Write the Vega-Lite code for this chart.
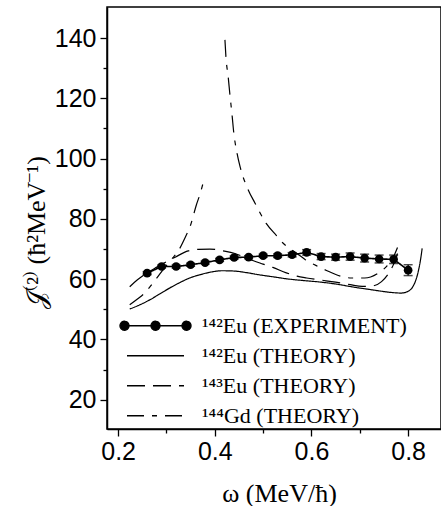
{
  "$schema": "https://vega.github.io/schema/vega-lite/v6.json",
  "width": 334,
  "height": 422,
  "autosize": {"type": "none"},
  "padding": {"left": 107, "top": 7, "right": 0, "bottom": 77},
  "background": "white",
  "config": {
    "view": {"stroke": "black", "strokeWidth": 1.5},
    "axis": {
      "grid": false,
      "domainColor": "black",
      "domainWidth": 1.5,
      "tickColor": "black",
      "tickWidth": 1.3,
      "labelColor": "black",
      "labelFont": "Liberation Sans",
      "labelFontSize": 25,
      "titleFont": "Liberation Serif",
      "titleFontSize": 26,
      "titleFontWeight": "normal",
      "titleColor": "black"
    },
    "legend": {"labelFont": "Liberation Serif", "labelFontSize": 22}
  },
  "datasets": {
    "exp": [
      {"series": "¹⁴²Eu (EXPERIMENT)", "branch": "e", "w": 0.26, "J": 62.0, "lo": 61.5, "hi": 62.5},
      {"series": "¹⁴²Eu (EXPERIMENT)", "branch": "e", "w": 0.29, "J": 64.2, "lo": 63.7, "hi": 64.7},
      {"series": "¹⁴²Eu (EXPERIMENT)", "branch": "e", "w": 0.32, "J": 64.2, "lo": 63.7, "hi": 64.7},
      {"series": "¹⁴²Eu (EXPERIMENT)", "branch": "e", "w": 0.35, "J": 64.8, "lo": 64.3, "hi": 65.3},
      {"series": "¹⁴²Eu (EXPERIMENT)", "branch": "e", "w": 0.38, "J": 65.5, "lo": 65.0, "hi": 66.0},
      {"series": "¹⁴²Eu (EXPERIMENT)", "branch": "e", "w": 0.41, "J": 66.4, "lo": 65.9, "hi": 66.9},
      {"series": "¹⁴²Eu (EXPERIMENT)", "branch": "e", "w": 0.44, "J": 67.2, "lo": 66.7, "hi": 67.7},
      {"series": "¹⁴²Eu (EXPERIMENT)", "branch": "e", "w": 0.47, "J": 67.3, "lo": 66.8, "hi": 67.8},
      {"series": "¹⁴²Eu (EXPERIMENT)", "branch": "e", "w": 0.50, "J": 67.8, "lo": 67.3, "hi": 68.3},
      {"series": "¹⁴²Eu (EXPERIMENT)", "branch": "e", "w": 0.53, "J": 67.8, "lo": 67.2, "hi": 68.4},
      {"series": "¹⁴²Eu (EXPERIMENT)", "branch": "e", "w": 0.56, "J": 68.1, "lo": 67.4, "hi": 68.8},
      {"series": "¹⁴²Eu (EXPERIMENT)", "branch": "e", "w": 0.59, "J": 68.9, "lo": 68.0, "hi": 69.8},
      {"series": "¹⁴²Eu (EXPERIMENT)", "branch": "e", "w": 0.62, "J": 67.5, "lo": 66.5, "hi": 68.5},
      {"series": "¹⁴²Eu (EXPERIMENT)", "branch": "e", "w": 0.65, "J": 67.3, "lo": 66.3, "hi": 68.3},
      {"series": "¹⁴²Eu (EXPERIMENT)", "branch": "e", "w": 0.68, "J": 67.5, "lo": 66.3, "hi": 68.7},
      {"series": "¹⁴²Eu (EXPERIMENT)", "branch": "e", "w": 0.71, "J": 67.0, "lo": 65.7, "hi": 68.3},
      {"series": "¹⁴²Eu (EXPERIMENT)", "branch": "e", "w": 0.74, "J": 66.7, "lo": 65.4, "hi": 68.0},
      {"series": "¹⁴²Eu (EXPERIMENT)", "branch": "e", "w": 0.77, "J": 66.6, "lo": 65.2, "hi": 68.0},
      {"series": "¹⁴²Eu (EXPERIMENT)", "branch": "e", "w": 0.80, "J": 63.0, "lo": 61.2, "hi": 64.8}
    ],
    "theory": [
      {"series": "¹⁴²Eu (THEORY)", "branch": "a", "w": 0.224, "J": 50.1},
      {"series": "¹⁴²Eu (THEORY)", "branch": "a", "w": 0.245, "J": 51.5},
      {"series": "¹⁴²Eu (THEORY)", "branch": "a", "w": 0.266, "J": 53.2},
      {"series": "¹⁴²Eu (THEORY)", "branch": "a", "w": 0.287, "J": 55.2},
      {"series": "¹⁴²Eu (THEORY)", "branch": "a", "w": 0.307, "J": 57.1},
      {"series": "¹⁴²Eu (THEORY)", "branch": "a", "w": 0.328, "J": 58.9},
      {"series": "¹⁴²Eu (THEORY)", "branch": "a", "w": 0.348, "J": 60.4},
      {"series": "¹⁴²Eu (THEORY)", "branch": "a", "w": 0.370, "J": 61.5},
      {"series": "¹⁴²Eu (THEORY)", "branch": "a", "w": 0.390, "J": 62.3},
      {"series": "¹⁴²Eu (THEORY)", "branch": "a", "w": 0.415, "J": 62.8},
      {"series": "¹⁴²Eu (THEORY)", "branch": "a", "w": 0.440, "J": 62.7},
      {"series": "¹⁴²Eu (THEORY)", "branch": "a", "w": 0.465, "J": 62.2},
      {"series": "¹⁴²Eu (THEORY)", "branch": "a", "w": 0.490, "J": 61.5},
      {"series": "¹⁴²Eu (THEORY)", "branch": "a", "w": 0.520, "J": 60.8},
      {"series": "¹⁴²Eu (THEORY)", "branch": "a", "w": 0.550, "J": 60.1},
      {"series": "¹⁴²Eu (THEORY)", "branch": "a", "w": 0.580, "J": 59.6},
      {"series": "¹⁴²Eu (THEORY)", "branch": "a", "w": 0.615, "J": 59.1},
      {"series": "¹⁴²Eu (THEORY)", "branch": "a", "w": 0.650, "J": 58.4},
      {"series": "¹⁴²Eu (THEORY)", "branch": "a", "w": 0.690, "J": 57.3},
      {"series": "¹⁴²Eu (THEORY)", "branch": "a", "w": 0.720, "J": 56.6},
      {"series": "¹⁴²Eu (THEORY)", "branch": "a", "w": 0.745, "J": 56.0},
      {"series": "¹⁴²Eu (THEORY)", "branch": "a", "w": 0.765, "J": 55.6},
      {"series": "¹⁴²Eu (THEORY)", "branch": "a", "w": 0.785, "J": 55.4},
      {"series": "¹⁴²Eu (THEORY)", "branch": "a", "w": 0.800, "J": 56.0},
      {"series": "¹⁴²Eu (THEORY)", "branch": "a", "w": 0.810, "J": 57.6},
      {"series": "¹⁴²Eu (THEORY)", "branch": "a", "w": 0.817, "J": 60.2},
      {"series": "¹⁴²Eu (THEORY)", "branch": "a", "w": 0.822, "J": 63.3},
      {"series": "¹⁴²Eu (THEORY)", "branch": "a", "w": 0.826, "J": 66.8},
      {"series": "¹⁴²Eu (THEORY)", "branch": "a", "w": 0.829, "J": 70.2},
      {"series": "¹⁴³Eu (THEORY)", "branch": "b", "w": 0.224, "J": 57.5},
      {"series": "¹⁴³Eu (THEORY)", "branch": "b", "w": 0.240, "J": 59.8},
      {"series": "¹⁴³Eu (THEORY)", "branch": "b", "w": 0.259, "J": 62.0},
      {"series": "¹⁴³Eu (THEORY)", "branch": "b", "w": 0.280, "J": 64.0},
      {"series": "¹⁴³Eu (THEORY)", "branch": "b", "w": 0.300, "J": 65.8},
      {"series": "¹⁴³Eu (THEORY)", "branch": "b", "w": 0.318, "J": 67.3},
      {"series": "¹⁴³Eu (THEORY)", "branch": "b", "w": 0.345, "J": 69.4},
      {"series": "¹⁴³Eu (THEORY)", "branch": "b", "w": 0.366, "J": 69.9},
      {"series": "¹⁴³Eu (THEORY)", "branch": "b", "w": 0.390, "J": 70.0},
      {"series": "¹⁴³Eu (THEORY)", "branch": "b", "w": 0.420, "J": 69.3},
      {"series": "¹⁴³Eu (THEORY)", "branch": "b", "w": 0.440, "J": 68.6},
      {"series": "¹⁴³Eu (THEORY)", "branch": "b", "w": 0.460, "J": 67.4},
      {"series": "¹⁴³Eu (THEORY)", "branch": "b", "w": 0.480, "J": 66.1},
      {"series": "¹⁴³Eu (THEORY)", "branch": "b", "w": 0.500, "J": 65.0},
      {"series": "¹⁴³Eu (THEORY)", "branch": "b", "w": 0.520, "J": 63.9},
      {"series": "¹⁴³Eu (THEORY)", "branch": "b", "w": 0.548, "J": 62.1},
      {"series": "¹⁴³Eu (THEORY)", "branch": "b", "w": 0.570, "J": 61.0},
      {"series": "¹⁴³Eu (THEORY)", "branch": "b", "w": 0.590, "J": 60.4},
      {"series": "¹⁴³Eu (THEORY)", "branch": "b", "w": 0.620, "J": 59.7},
      {"series": "¹⁴³Eu (THEORY)", "branch": "b", "w": 0.650, "J": 59.0},
      {"series": "¹⁴³Eu (THEORY)", "branch": "b", "w": 0.680, "J": 58.2},
      {"series": "¹⁴³Eu (THEORY)", "branch": "b", "w": 0.705, "J": 57.6},
      {"series": "¹⁴³Eu (THEORY)", "branch": "b", "w": 0.728, "J": 57.8},
      {"series": "¹⁴³Eu (THEORY)", "branch": "b", "w": 0.745, "J": 59.2},
      {"series": "¹⁴³Eu (THEORY)", "branch": "b", "w": 0.760, "J": 62.0},
      {"series": "¹⁴³Eu (THEORY)", "branch": "b", "w": 0.770, "J": 65.0},
      {"series": "¹⁴³Eu (THEORY)", "branch": "b", "w": 0.778, "J": 68.5},
      {"series": "¹⁴⁴Gd (THEORY)", "branch": "c1", "w": 0.224, "J": 51.5},
      {"series": "¹⁴⁴Gd (THEORY)", "branch": "c1", "w": 0.240, "J": 53.4},
      {"series": "¹⁴⁴Gd (THEORY)", "branch": "c1", "w": 0.255, "J": 55.4},
      {"series": "¹⁴⁴Gd (THEORY)", "branch": "c1", "w": 0.270, "J": 58.3},
      {"series": "¹⁴⁴Gd (THEORY)", "branch": "c1", "w": 0.290, "J": 62.5},
      {"series": "¹⁴⁴Gd (THEORY)", "branch": "c1", "w": 0.310, "J": 66.5},
      {"series": "¹⁴⁴Gd (THEORY)", "branch": "c1", "w": 0.325, "J": 69.5},
      {"series": "¹⁴⁴Gd (THEORY)", "branch": "c1", "w": 0.338, "J": 73.6},
      {"series": "¹⁴⁴Gd (THEORY)", "branch": "c1", "w": 0.350, "J": 78.0},
      {"series": "¹⁴⁴Gd (THEORY)", "branch": "c1", "w": 0.362, "J": 84.7},
      {"series": "¹⁴⁴Gd (THEORY)", "branch": "c1", "w": 0.370, "J": 88.5},
      {"series": "¹⁴⁴Gd (THEORY)", "branch": "c1", "w": 0.376, "J": 92.0},
      {"series": "¹⁴⁴Gd (THEORY)", "branch": "c2", "w": 0.421, "J": 139.4},
      {"series": "¹⁴⁴Gd (THEORY)", "branch": "c2", "w": 0.423, "J": 133.9},
      {"series": "¹⁴⁴Gd (THEORY)", "branch": "c2", "w": 0.428, "J": 126.7},
      {"series": "¹⁴⁴Gd (THEORY)", "branch": "c2", "w": 0.431, "J": 121.7},
      {"series": "¹⁴⁴Gd (THEORY)", "branch": "c2", "w": 0.436, "J": 114.0},
      {"series": "¹⁴⁴Gd (THEORY)", "branch": "c2", "w": 0.439, "J": 109.0},
      {"series": "¹⁴⁴Gd (THEORY)", "branch": "c2", "w": 0.446, "J": 101.8},
      {"series": "¹⁴⁴Gd (THEORY)", "branch": "c2", "w": 0.453, "J": 96.9},
      {"series": "¹⁴⁴Gd (THEORY)", "branch": "c2", "w": 0.469, "J": 89.7},
      {"series": "¹⁴⁴Gd (THEORY)", "branch": "c2", "w": 0.483, "J": 85.3},
      {"series": "¹⁴⁴Gd (THEORY)", "branch": "c2", "w": 0.506, "J": 78.6},
      {"series": "¹⁴⁴Gd (THEORY)", "branch": "c2", "w": 0.528, "J": 74.4},
      {"series": "¹⁴⁴Gd (THEORY)", "branch": "c2", "w": 0.541, "J": 72.0},
      {"series": "¹⁴⁴Gd (THEORY)", "branch": "c2", "w": 0.572, "J": 68.3},
      {"series": "¹⁴⁴Gd (THEORY)", "branch": "c2", "w": 0.588, "J": 66.4},
      {"series": "¹⁴⁴Gd (THEORY)", "branch": "c2", "w": 0.610, "J": 64.5},
      {"series": "¹⁴⁴Gd (THEORY)", "branch": "c2", "w": 0.631, "J": 62.9},
      {"series": "¹⁴⁴Gd (THEORY)", "branch": "c2", "w": 0.662, "J": 60.9},
      {"series": "¹⁴⁴Gd (THEORY)", "branch": "c2", "w": 0.683, "J": 60.4},
      {"series": "¹⁴⁴Gd (THEORY)", "branch": "c2", "w": 0.710, "J": 60.4},
      {"series": "¹⁴⁴Gd (THEORY)", "branch": "c2", "w": 0.738, "J": 62.0},
      {"series": "¹⁴⁴Gd (THEORY)", "branch": "c2", "w": 0.755, "J": 64.2},
      {"series": "¹⁴⁴Gd (THEORY)", "branch": "c2", "w": 0.770, "J": 67.5},
      {"series": "¹⁴⁴Gd (THEORY)", "branch": "c2", "w": 0.778, "J": 70.5}
    ]
  },
  "encoding": {
    "x": {
      "field": "w", "type": "quantitative",
      "scale": {"domain": [0.177, 0.868], "nice": false, "zero": false},
      "axis": {
        "values": [0.2, 0.3, 0.4, 0.5, 0.6, 0.7, 0.8],
        "labelExpr": "round(datum.value*10) % 2 == 0 ? format(datum.value, '.1f') : ''",
        "tickSize": {"condition": {"test": "round(datum.value*10) % 2 == 0", "value": 7}, "value": 4},
        "labelPadding": 3,
        "labelFlush": false,
        "title": "ω (MeV/ħ)",
        "titleFont": "Liberation Serif",
        "titleFontSize": 26,
        "titleX": 172,
        "titleY": 64,
        "titleBaseline": "middle"
      }
    },
    "y": {
      "field": "J", "type": "quantitative",
      "scale": {"domain": [10.3, 150.3], "nice": false, "zero": false},
      "axis": {
        "values": [20, 30, 40, 50, 60, 70, 80, 90, 100, 110, 120, 130, 140],
        "labelExpr": "datum.value % 20 == 0 ? datum.label : ''",
        "tickSize": {"condition": {"test": "datum.value % 20 == 0", "value": 7}, "value": 4},
        "labelPadding": 4,
        "title": "𝒥⁽²⁾  (ħ²MeV⁻¹)",
        "titleFont": "Liberation Serif",
        "titleFontSize": 26,
        "titleX": -71,
        "titleY": 225,
        "titleAlign": "center",
        "titleBaseline": "middle",
        "titleAngle": -90
      }
    }
  },
  "layer": [
    {
      "data": {"name": "theory"},
      "mark": {"type": "line", "interpolate": "monotone", "strokeWidth": 1.2, "color": "black"},
      "encoding": {
        "detail": {"field": "branch"},
        "strokeDash": {
          "field": "series", "type": "nominal",
          "scale": {
            "domain": ["¹⁴²Eu (EXPERIMENT)", "¹⁴²Eu (THEORY)", "¹⁴³Eu (THEORY)", "¹⁴⁴Gd (THEORY)"],
            "range": [[1, 0], [1, 0], [18, 8], [17, 8, 5, 8]]
          },
          "legend": {
            "title": null,
            "orient": "none",
            "legendX": 11,
            "legendY": 304,
            "padding": 0,
            "symbolType": "stroke",
            "symbolSize": 3249,
            "symbolOffset": 8,
            "symbolStrokeColor": "black",
            "symbolStrokeWidth": 1.3,
            "labelFont": "Liberation Serif",
            "labelFontSize": 22,
            "labelColor": "black",
            "labelOffset": 17,
            "labelLimit": 320,
            "clipHeight": 29.5,
            "rowPadding": 0,
            "encode": {
              "symbols": {
                "update": {
                  "shape": {"signal": "indexof(datum.value, 'EXPERIMENT') >= 0 ? 'M-1.088,0L1.088,0M-1.246,0a0.158,0.158 0 1,0 0.316,0a0.158,0.158 0 1,0 -0.316,0M-0.158,0a0.158,0.158 0 1,0 0.316,0a0.158,0.158 0 1,0 -0.316,0M0.93,0a0.158,0.158 0 1,0 0.316,0a0.158,0.158 0 1,0 -0.316,0' : 'stroke'"},
                  "fill": {"signal": "indexof(datum.value, 'EXPERIMENT') >= 0 ? 'black' : 'transparent'"},
                  "stroke": {"value": "black"},
                  "strokeWidth": {"value": 1.3}
                }
              },
              "labels": {
                "update": {
                  "font": {"value": "Liberation Serif"},
                  "fontSize": {"value": 22},
                  "fill": {"value": "black"}
                }
              }
            }
          }
        }
      }
    },
    {
      "data": {"name": "exp"},
      "mark": {"type": "line", "strokeWidth": 1.6, "color": "black"},
      "encoding": {
        "strokeDash": {"field": "series", "type": "nominal"}
      }
    },
    {
      "data": {"name": "exp"},
      "mark": {"type": "rule", "strokeWidth": 1.3, "color": "black"},
      "encoding": {"y": {"field": "lo", "type": "quantitative"}, "y2": {"field": "hi"}}
    },
    {
      "data": {"name": "exp"},
      "mark": {"type": "tick", "orient": "horizontal", "size": 9, "thickness": 1.5, "color": "black"},
      "encoding": {"y": {"field": "lo", "type": "quantitative"}}
    },
    {
      "data": {"name": "exp"},
      "mark": {"type": "tick", "orient": "horizontal", "size": 9, "thickness": 1.5, "color": "black"},
      "encoding": {"y": {"field": "hi", "type": "quantitative"}}
    },
    {
      "data": {"name": "exp"},
      "mark": {"type": "point", "filled": true, "size": 75, "color": "black", "opacity": 1},
      "encoding": {}
    }
  ]
}
